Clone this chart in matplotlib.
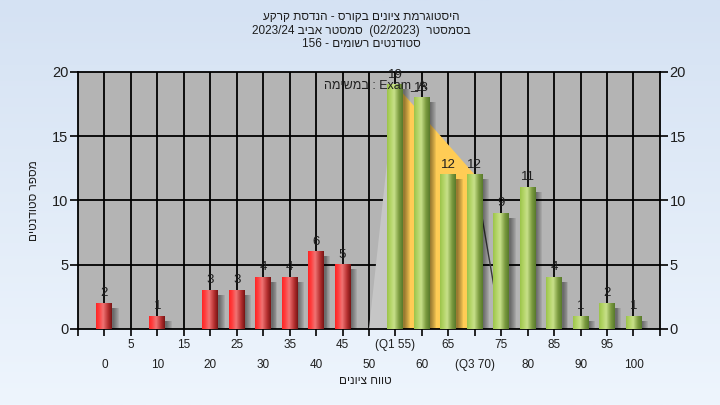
import numpy as np
import matplotlib
matplotlib.use("Agg")
import matplotlib.pyplot as plt
from matplotlib.colors import LinearSegmentedColormap
from matplotlib.patches import Polygon, Rectangle

plt.rcParams['font.family'] = ['Liberation Sans', 'DejaVu Sans']

# data
grades = [0, 5, 10, 15, 20, 25, 30, 35, 40, 45, 50, 55, 60, 65, 70, 75, 80, 85, 90, 95, 100]
counts = [2, 0, 1, 0, 3, 3, 4, 4, 6, 5, 0, 19, 18, 12, 12, 9, 11, 4, 1, 2, 1]
pass_grade = 50
q1 = 55
q3 = 70
title_lines = ["היסטוגרמת ציונים בקורס - הנדסת קרקע",
               "בסמסטר  (02/2023)  סמסטר אביב 2023/24",
               "סטודנטים רשומים - 156"]
task_text = "במשימה : Exam_A"
x_title = "טווח ציונים"
y_title = "מספר סטודנטים"


def visual(s):
    # tiny bidi pass (LTR paragraph): matplotlib draws characters left to right
    types = []
    prev = 'L'
    for i, ch in enumerate(s):
        if '\u0590' <= ch <= '\u05ff':
            t = prev = 'R'
        elif ch.isalpha():
            t = prev = 'L'
        elif ch.isdigit() or (ch in '/.:' and 0 < i < len(s) - 1
                              and s[i - 1].isdigit() and s[i + 1].isdigit()):
            t = 'EN' if prev == 'R' else 'L'
        else:
            t = 'N'
        types.append(t)
    n = len(s)
    i = 0
    while i < n:
        if types[i] != 'N':
            i += 1
            continue
        j = i
        while j < n and types[j] == 'N':
            j += 1
        before = 'L' if i == 0 else ('R' if types[i - 1] in ('R', 'EN') else 'L')
        after = 'L' if j == n else ('R' if types[j] in ('R', 'EN') else 'L')
        for k in range(i, j):
            types[k] = 'R' if before == after == 'R' else 'L'
        i = j
    levels = [{'L': 0, 'R': 1, 'EN': 2}[t] for t in types]
    mirror = {'(': ')', ')': '('}
    chars = [mirror.get(c, c) if lv % 2 else c for c, lv in zip(s, levels)]
    for lv in range(max(levels), 0, -1):
        i = 0
        while i < n:
            if levels[i] >= lv:
                j = i
                while j < n and levels[j] >= lv:
                    j += 1
                chars[i:j] = chars[i:j][::-1]
                levels[i:j] = levels[i:j][::-1]
                i = j
            else:
                i += 1
    return ''.join(chars)


red_cmap = LinearSegmentedColormap.from_list(
    "red", [(0, "#ff2424"), (0.2, "#ff4040"), (0.45, "#f07474"), (0.75, "#b83232"), (1, "#781414")])
green_cmap = LinearSegmentedColormap.from_list(
    "green", [(0, "#9cc44a"), (0.2, "#b2d364"), (0.45, "#c8e08a"), (0.75, "#7c9c40"), (1, "#587a2c")])

fig = plt.figure(figsize=(7.2, 4.05), dpi=100)

# light blue gradient background
bg = fig.add_axes([0, 0, 1, 1], zorder=-10)
bg_cmap = LinearSegmentedColormap.from_list("bg", ["#d5e2f3", "#eef5fd"])
bg.imshow(np.linspace(0, 1, 256).reshape(-1, 1), cmap=bg_cmap, aspect="auto", extent=[0, 1, 0, 1])
bg.axis("off")

ax = fig.add_axes([0.1083, 0.1877, 0.8083, 0.6346])
ax.set_facecolor("#b4b4b4")
xmin, xmax = -5, 105

# grid
for g in range(0, 101, 5):
    ax.axvline(g, color="black", lw=1.3, zorder=1)
for v in [5, 10, 15]:
    ax.axhline(v, color="black", lw=1.3, zorder=1)

# quartile area
i1 = grades.index(q1)
i3 = grades.index(q3)
ax.add_patch(Polygon([(q1 - 5, 0), (q1, counts[i1]), (q1, 0)], closed=True,
                     facecolor="#c6c6c6", edgecolor="none", zorder=2))
ax.plot([q1 - 5, q1], [0, 0], color="#e8e8e8", lw=1.5, zorder=2)
ax.add_patch(Polygon([(q1, counts[i1]), (q3, counts[i3]), (q3, 0), (q1, 0)], closed=True,
                     facecolor="#ffcc55", edgecolor="none", zorder=2))
ax.plot([q3, q3 + 5], [counts[i3], 0], color="#3a3a3a", lw=1, zorder=2)

w = 3.0
grad = np.linspace(0, 1, 64).reshape(1, -1)
for g, c in zip(grades, counts):
    if c == 0:
        continue
    # soft shadow
    for k in range(6):
        ax.add_patch(Rectangle((g - w / 2 + 0.3 + k * 0.18, -0.35), w, c, facecolor="black",
                               alpha=0.08, edgecolor="none", zorder=3))
    cmap = red_cmap if g < pass_grade else green_cmap
    ax.imshow(grad, cmap=cmap, aspect="auto", extent=[g - w / 2, g + w / 2, 0, c], zorder=4)
    ax.annotate(str(c), (g, c), xytext=(0, 3), textcoords="offset points",
                ha="center", va="bottom", fontsize=9.5, color="#1e1e1e", zorder=6)

ax.set_xlim(xmin, xmax)
ax.set_ylim(0, 20)

ax.text(41.5, 19.0, visual(task_text), ha="left", va="center", fontsize=9, color="#202020", zorder=7)

# x ticks: two rows
xt = list(range(xmin, xmax + 1, 5))
labels = []
for t in xt:
    if t < 0 or t > 100:
        labels.append("")
        continue
    s = str(t)
    if t == q1:
        s = "(Q1 %d)" % t
    elif t == q3:
        s = "(Q3 %d)" % t
    labels.append(s if t % 10 else "\n" + s)
ax.set_xticks(xt)
ax.set_xticklabels(labels, fontsize=8.5, color="#1e1e1e", linespacing=1.9)
ax.set_yticks([0, 5, 10, 15, 20])
ax.tick_params(axis="y", left=True, right=True, labelright=True, length=6, width=1.2,
               labelsize=10.5, colors="black", labelcolor="#1e1e1e", pad=1)
ax.tick_params(axis="x", length=5, width=1.2, pad=2)
for sp in ax.spines.values():
    sp.set_linewidth(1.3)

fig.text(0.5014, 0.972, "\n".join(visual(t) for t in title_lines), ha="center", va="top",
         fontsize=8.5, color="#1e1e1e", linespacing=1.15)
fig.text(0.508, 0.06, visual(x_title), ha="center", va="center", fontsize=8.5, color="#1e1e1e")
fig.text(0.047, 0.505, visual(y_title), ha="center", va="center", rotation=90, fontsize=8.5,
         color="#1e1e1e")

fig.savefig("out.png", dpi=100)
